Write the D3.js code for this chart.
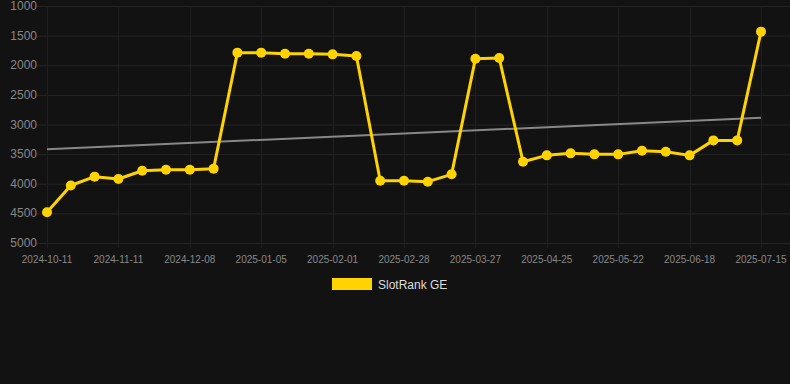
<!DOCTYPE html>
<html>
<head>
<meta charset="utf-8">
<script src="https://cdn.jsdelivr.net/npm/d3@7"></script>
<style>
  html, body { margin: 0; padding: 0; background: #121212; }
  svg { display: block; font-family: "Liberation Sans", Arial, sans-serif; }
</style>
</head>
<body>
<div id="chart"></div>
<script>
// weekly-ish SlotRank snapshots (lower rank = better, axis reversed)
const dates = [
  "2024-10-11", "2024-10-21", "2024-11-01", "2024-11-11", "2024-11-20", "2024-11-29",
  "2024-12-08", "2024-12-17", "2024-12-27", "2025-01-05", "2025-01-14", "2025-01-23",
  "2025-02-01", "2025-02-10", "2025-02-19", "2025-02-28", "2025-03-09", "2025-03-18",
  "2025-03-27", "2025-04-05", "2025-04-15", "2025-04-25", "2025-05-04", "2025-05-13",
  "2025-05-22", "2025-05-31", "2025-06-09", "2025-06-18", "2025-06-27", "2025-07-06",
  "2025-07-15"
];
const ranks = [
  4480, 4030, 3880, 3920, 3780, 3765, 3765, 3745, 1787, 1787, 1805, 1805,
  1816, 1844, 3948, 3948, 3965, 3841, 1889, 1878, 3628, 3521, 3487, 3504,
  3504, 3442, 3459, 3521, 3268, 3268, 1433
];
const yTicks = [1000, 1500, 2000, 2500, 3000, 3500, 4000, 4500, 5000];
const seriesName = "SlotRank GE";

const width = 790, height = 384;
const plotLeft = 41, plotRight = 790, plotTop = 6, plotBottom = 243;

const svg = d3.select("#chart").append("svg")
  .attr("width", width)
  .attr("height", height);

svg.append("rect").attr("width", width).attr("height", height).attr("fill", "#121212");

const x = d3.scalePoint().domain(dates).range([47, 761]);
const y = d3.scaleLinear().domain([1000, 5000]).range([plotTop, plotBottom]);

// horizontal grid + y labels
svg.append("g").selectAll("line")
  .data(yTicks)
  .enter().append("line")
  .attr("x1", plotLeft - 4).attr("x2", plotRight)
  .attr("y1", d => y(d) + 0.5).attr("y2", d => y(d) + 0.5)
  .attr("stroke", "#252525");

svg.append("g").selectAll("text")
  .data(yTicks)
  .enter().append("text")
  .attr("x", 37)
  .attr("y", d => y(d) + 4)
  .attr("text-anchor", "end")
  .style("font-size", "12px")
  .style("fill", "#888")
  .text(d => d);

// vertical grid at every third date + x labels
const xTicks = dates.filter((d, i) => i % 3 === 0);

svg.append("g").selectAll("line")
  .data(xTicks)
  .enter().append("line")
  .attr("x1", d => Math.round(x(d)) + 0.5).attr("x2", d => Math.round(x(d)) + 0.5)
  .attr("y1", plotTop).attr("y2", plotBottom + 5)
  .attr("stroke", "#1f1f1f");

svg.append("g").selectAll("text")
  .data(xTicks)
  .enter().append("text")
  .attr("x", d => x(d))
  .attr("y", 263)
  .attr("text-anchor", "middle")
  .style("font-size", "10px")
  .style("fill", "#888")
  .text(d => d);

// linear trend over the series
const idx = ranks.map((v, i) => i);
const mx = d3.mean(idx), my = d3.mean(ranks);
const slope = d3.sum(idx, i => (i - mx) * (ranks[i] - my)) / d3.sum(idx, i => (i - mx) ** 2);
const icpt = my - slope * mx;

svg.append("line")
  .attr("x1", x(dates[0]))
  .attr("y1", y(icpt))
  .attr("x2", x(dates[dates.length - 1]))
  .attr("y2", y(icpt + slope * (dates.length - 1)))
  .attr("stroke", "#888")
  .attr("stroke-width", 2);

// main series
const line = d3.line()
  .x((d, i) => x(dates[i]))
  .y(d => y(d));

svg.append("path")
  .datum(ranks)
  .attr("d", line)
  .attr("fill", "none")
  .attr("stroke", "#FFD300")
  .attr("stroke-width", 3)
  .attr("stroke-linejoin", "round");

svg.append("g").selectAll("circle")
  .data(ranks)
  .enter().append("circle")
  .attr("cx", (d, i) => x(dates[i]))
  .attr("cy", d => y(d))
  .attr("r", 5)
  .attr("fill", "#FFD300");

// legend
const legend = svg.append("g");
legend.append("rect")
  .attr("x", 332).attr("y", 278)
  .attr("width", 40).attr("height", 12)
  .attr("fill", "#FFD300");
legend.append("text")
  .attr("x", 378).attr("y", 288.5)
  .style("font-size", "12px")
  .style("fill", "#ddd")
  .text(seriesName);
</script>
</body>
</html>
